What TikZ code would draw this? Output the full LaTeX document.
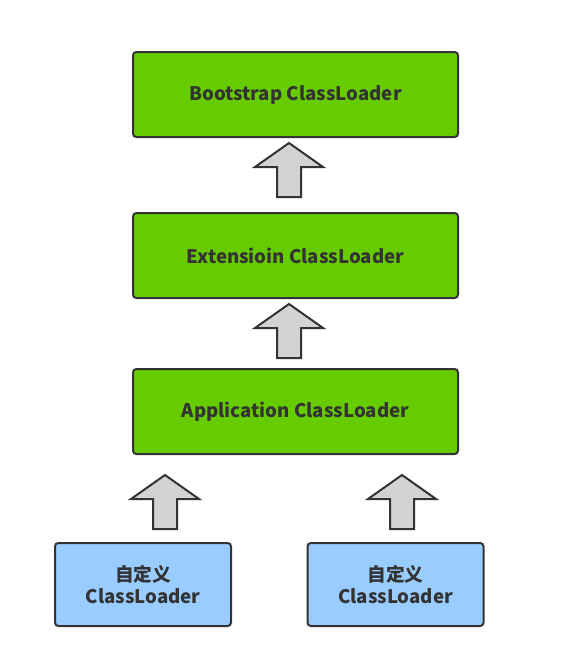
\documentclass[tikz,border=0pt]{standalone}
\usepackage{fontspec}
\setmainfont{Noto Sans CJK SC}
\usetikzlibrary{calc}
\definecolor{loadergreen}{HTML}{66CC00}
\definecolor{loaderblue}{HTML}{99CCFF}
\definecolor{arrowgray}{HTML}{D3D3D3}
\definecolor{edgegray}{HTML}{333333}
\tikzset{loader/.style={rectangle, rounded corners=2.5pt, draw=edgegray, line width=1.5pt,
      text=edgegray, font=\bfseries\fontsize{14}{17}\selectfont, align=center, inner sep=0pt},
  green loader/.style={loader, fill=loadergreen, minimum width=243.75pt, minimum height=63.75pt},
  blue loader/.style={loader, fill=loaderblue, minimum width=132pt, minimum height=62.25pt},
  fat arrow/.style={draw=edgegray, fill=arrowgray, line width=1.5pt, line join=miter}}
\newcommand{\fatarrow}[1]{\draw[fat arrow] #1 ++(-12,0) -- ++(0,-30) -- ++(-22,0)
  -- ++(34,-24) -- ++(34,24) -- ++(-22,0) -- ++(0,30) -- cycle;}

\begin{document}
\begin{tikzpicture}[x=0.75pt, y=-0.75pt]
    \useasboundingbox (0,0) rectangle (564,657);
    \node[green loader] (boot) at (295.5,94.5) {Bootstrap ClassLoader};
    \node[green loader] (ext) at (295.5,255.5) {Extensioin ClassLoader};
    \node[green loader] (app) at (295.5,411.5) {Application ClassLoader};
    \node[blue loader] (custom1) at (143,584.5) {自定义\\ClassLoader};
    \node[blue loader] (custom2) at (395.5,584.5) {自定义\\ClassLoader};
    \coordinate (mid) at (289,0);
    \coordinate (left) at (165,0);
    \coordinate (right) at (402,0);
    \fatarrow{($(mid |- ext.north)+(0,-15)$)}
    \fatarrow{($(mid |- app.north)+(0,-10)$)}
    \fatarrow{($(left |- custom1.north)+(0,-13)$)}
    \fatarrow{($(right |- custom2.north)+(0,-13)$)}
  \end{tikzpicture}
\end{document}
